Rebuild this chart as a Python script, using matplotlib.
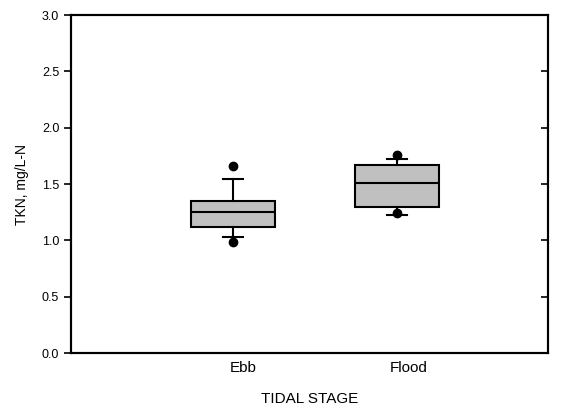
import matplotlib
matplotlib.use("Agg")
import matplotlib.pyplot as plt

plt.rcParams['font.family'] = ['Liberation Sans', 'DejaVu Sans']

# box plot summaries
stages = ['Ebb', 'Flood']
q1 = [1.115, 1.298]
med = [1.248, 1.511]
q3 = [1.349, 1.671]
whislo = [1.029, 1.224]
whishi = [1.544, 1.721]
fliers = [[0.988, 1.662], [1.245, 1.754]]

stats = []
for i in range(len(stages)):
    stats.append(dict(label=stages[i], q1=q1[i], med=med[i], q3=q3[i],
                      whislo=whislo[i], whishi=whishi[i], fliers=fliers[i]))

fig = plt.figure(figsize=(5.62, 4.12), dpi=100)
ax = fig.add_axes([71/562, 59/412, 477/562, 338/412])

ax.bxp(stats, positions=[1, 2], widths=0.51, patch_artist=True,
       boxprops=dict(facecolor='#c0c0c0', edgecolor='black', linewidth=1.5),
       medianprops=dict(color='black', linewidth=1.5),
       whiskerprops=dict(color='black', linewidth=1.5),
       capprops=dict(color='black', linewidth=1.5),
       capwidths=0.12,
       flierprops=dict(marker='o', markerfacecolor='black', markeredgecolor='black', markersize=6))

ax.set_xlim(0.01, 2.92)
ax.set_ylim(0, 3.0)
ax.set_yticks([0, 0.5, 1.0, 1.5, 2.0, 2.5, 3.0])
ax.set_yticklabels(['0.0', '0.5', '1.0', '1.5', '2.0', '2.5', '3.0'], fontsize=9)
ax.tick_params(axis='y', direction='out', length=5, width=1.2, left=True, right=False)
ax.set_xticks([1.06, 2.07])
ax.set_xticklabels(stages, fontsize=11)
ax.tick_params(axis='x', length=0, pad=6)

# inward ticks on the right side
ax2 = ax.twinx()
ax2.set_ylim(0, 3.0)
ax2.set_yticks([0, 0.5, 1.0, 1.5, 2.0, 2.5, 3.0])
ax2.tick_params(axis='y', direction='in', length=5, width=1.2, labelright=False)

for a in (ax, ax2):
    for s in a.spines.values():
        s.set_linewidth(1.5)

ax.set_ylabel('TKN, mg/L-N', fontsize=10, labelpad=9)
ax.set_xlabel('TIDAL STAGE', fontsize=11, labelpad=12)

fig.savefig('out.png', dpi=100)
